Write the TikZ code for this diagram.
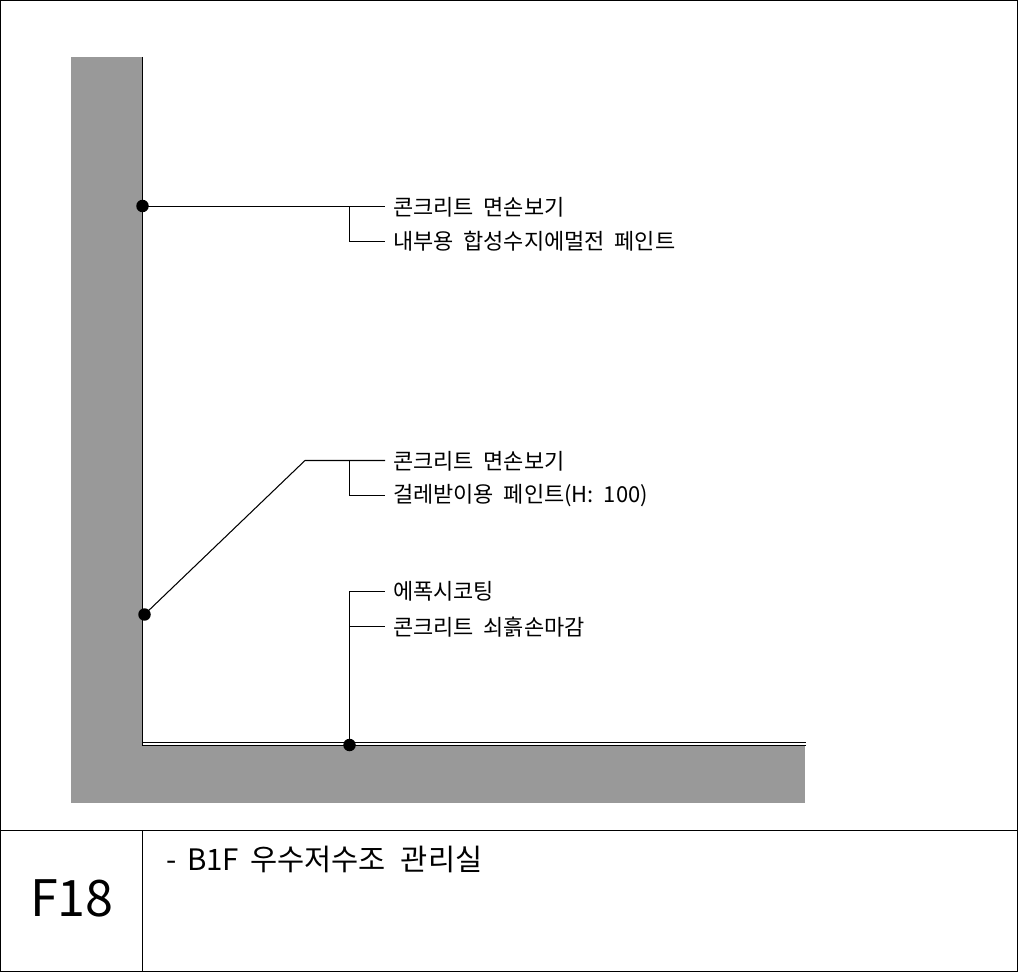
\documentclass[tikz,border=0pt]{standalone}
\usepackage{fontspec}
\setmainfont{Noto Sans CJK KR}
\usetikzlibrary{positioning,calc}
\newcommand{\lblfont}{\fontsize{12.5pt}{14pt}\selectfont\spaceskip 5.6pt plus 0pt\relax}
\newcommand{\titlefont}{\fontsize{16.8pt}{18pt}\selectfont\spaceskip 6.2pt plus 0pt\relax}
\tikzset{frameline/.style={draw=black, line width=0.6pt}}
\tikzset{slab/.style={fill=black!40, draw=none}}
\tikzset{leader/.style={draw=black, line width=0.6pt}}
\tikzset{dotnode/.style={circle, fill=black, inner sep=0pt, minimum size=0.25cm}}
\tikzset{lbl/.style={anchor=west, inner sep=0pt, outer sep=0pt}}
\begin{document}
\begin{tikzpicture}[x=0.02cm, y=-0.02cm]
	\useasboundingbox (0,0) rectangle (1018,976);
	% concrete
	\fill[slab] (71,57) rectangle (142,803);
	\fill[slab] (142,745) rectangle (805,803);
	\draw[leader] (142.5,57) -- (142.5,745.5) -- (806,745.5);
	\draw[leader] (142.5,742.5) -- (806,742.5);
	% frame
	\draw[frameline] (0.5,971) -- (0.5,0.5) -- (1017.5,0.5) -- (1017.5,971);
	\draw[frameline] (0.5,830.5) -- (1017.5,830.5);
	\draw[frameline] (0.5,971.5) -- (1017.5,971.5);
	\draw[frameline] (142.5,830.5) -- (142.5,971.5);
	% wall, upper
	\node[dotnode] (dotA) at (142.5,206) {};
	\coordinate (jctA) at (349.5,206.5);
	\coordinate (endA) at (385,206.5);
	\coordinate (endB) at (385,241.5);
	\node[lbl] (lblA) at (393,207.5) {\lblfont 콘크리트 면손보기};
	\node[lbl] (lblB) at (393,241.5) {\lblfont 내부용 합성수지에멀전 페인트};
	\draw[leader] (dotA.center |- endA) -- (endA);
	\draw[leader] (jctA) |- (endB);
	% wall, lower
	\node[dotnode] (dotC) at (144.5,614.5) {};
	\coordinate (kneeC) at (305,460.5);
	\coordinate (jctC) at (349.5,460.5);
	\coordinate (endC) at (385,460.5);
	\coordinate (endD) at (385,495.5);
	\node[lbl] (lblC) at (393,461.5) {\lblfont 콘크리트 면손보기};
	\node[lbl] (lblD) at (393,495.5) {\lblfont 걸레받이용 페인트(H: 100)};
	\draw[leader] (dotC.center) -- (kneeC) -- (endC);
	\draw[leader] (jctC) |- (endD);
	% floor
	\node[dotnode] (dotE) at (349.5,745) {};
	\coordinate (endE) at (385,591.5);
	\coordinate (endF) at (385,626.5);
	\node[lbl] (lblE) at (393,591.5) {\lblfont 에폭시코팅};
	\node[lbl] (lblF) at (393,627.5) {\lblfont 콘크리트 쇠흙손마감};
	\draw[leader] (dotE.center) |- (endE);
	\draw[leader] (dotE.center |- endF) -- (endF);
	% title
	\node[font=\fontsize{28.6pt}{30pt}\selectfont, inner sep=0pt] (sheetNo) at (72,898.5) {F18};
	\node[lbl] (sheetTitle) at (166,859) {\titlefont - B1F 우수저수조\hspace{8.6pt}관리실};
\end{tikzpicture}
\end{document}
